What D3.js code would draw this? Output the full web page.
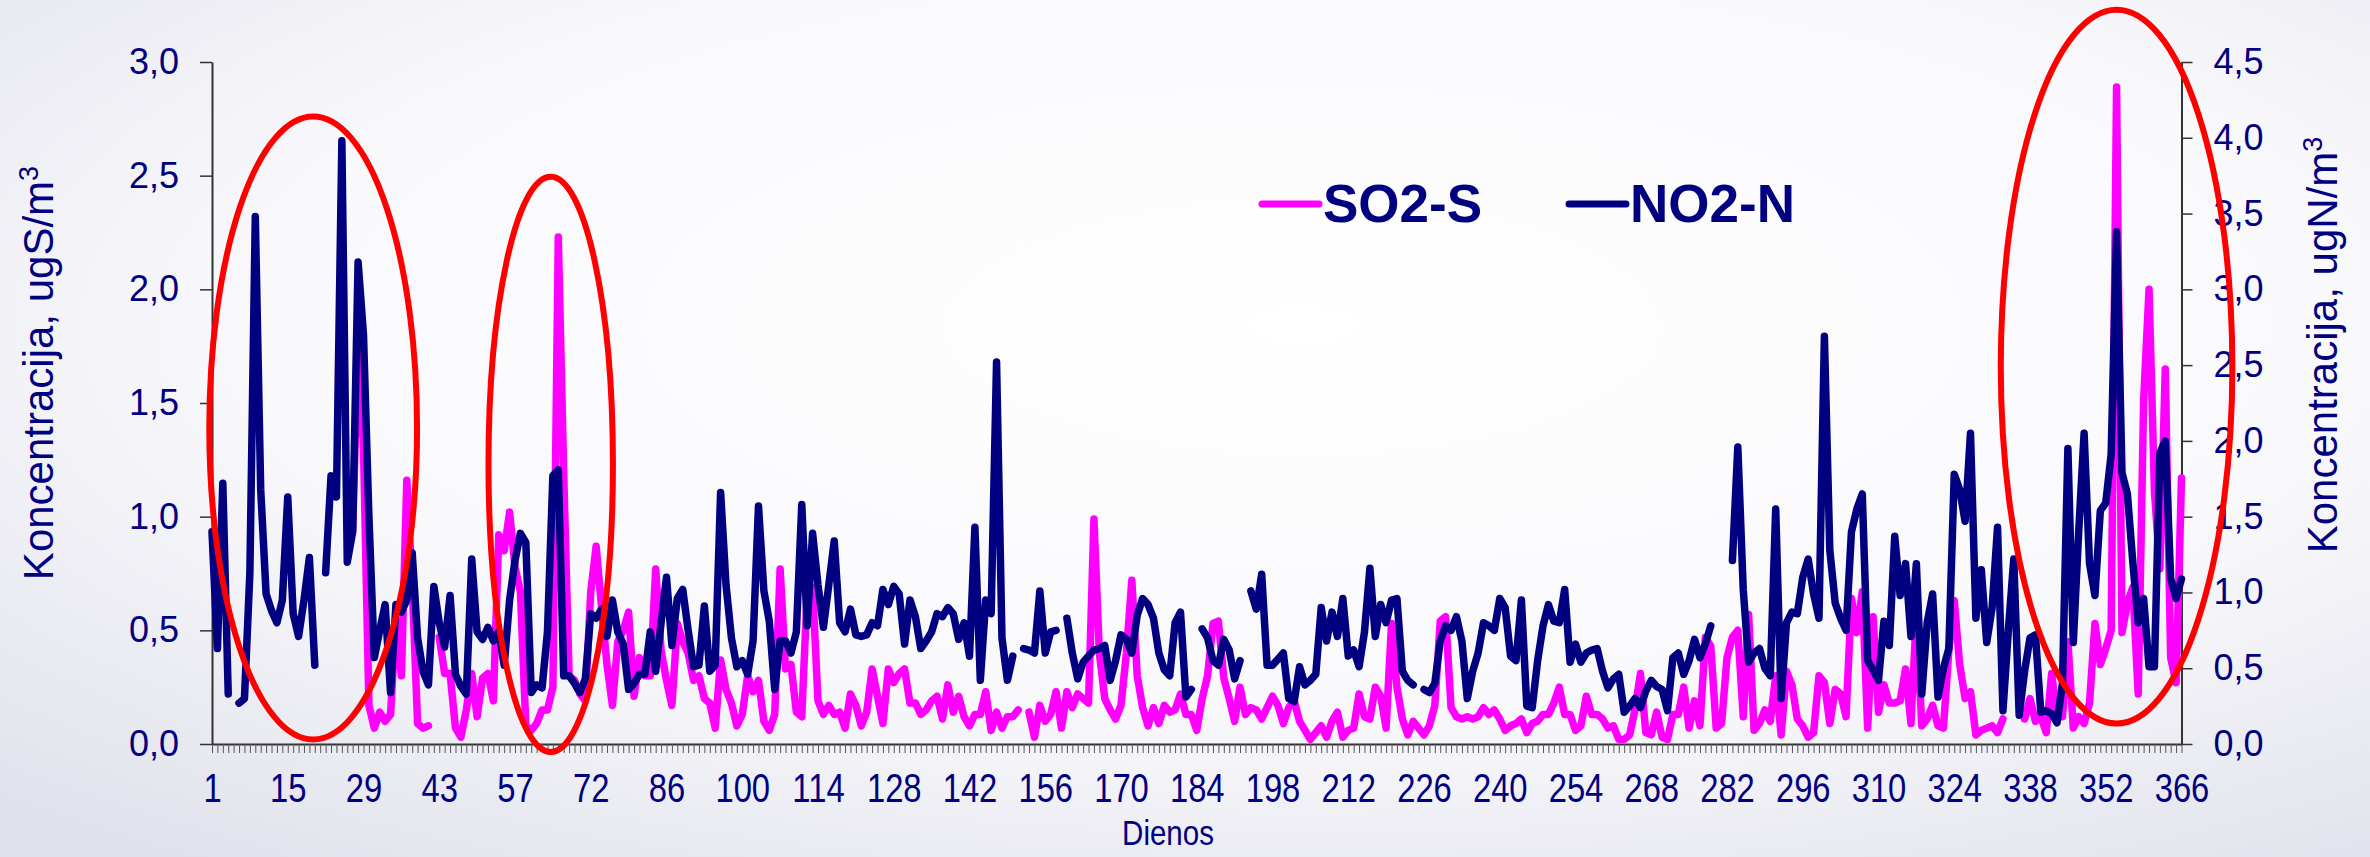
<!DOCTYPE html>
<html>
<head>
<meta charset="utf-8">
<script src="https://cdn.jsdelivr.net/npm/d3@7"></script>
<style>
  body { margin: 0; background: #fff; }
  svg { display: block; font-family: "Liberation Sans", Arial, sans-serif; }
</style>
</head>
<body>
<div id="chart"></div>
<script>
// daily values, index 0 = first day on the axis
const so2 = [
  null,null,null,null,null,null,null,null,null,null,
  null,null,null,null,null,null,null,null,null,null,
  null,null,null,null,null,null,0.94,1.78,1.30,0.17,
  0.07,0.14,0.10,0.13,0.55,0.30,1.16,0.70,0.09,0.07,
  0.08,null,0.47,0.31,0.31,0.07,0.03,0.15,0.31,0.12,
  0.29,0.31,0.19,0.92,0.85,1.02,0.78,0.67,0.08,0.06,
  0.09,0.15,0.15,0.25,2.23,1.19,0.30,0.28,0.22,0.19,
  0.67,0.87,0.60,0.35,0.17,0.45,0.50,0.58,0.21,0.38,
  0.30,0.30,0.77,0.41,0.28,0.17,0.53,0.45,0.40,0.28,
  0.30,0.20,0.18,0.07,0.37,0.24,0.18,0.08,0.13,0.30,
  0.23,0.28,0.10,0.06,0.13,0.77,0.33,0.35,0.14,0.12,
  0.67,0.69,0.19,0.13,0.17,0.13,0.14,0.07,0.22,0.17,
  0.08,0.14,0.33,0.21,0.09,0.33,0.27,0.31,0.33,0.18,
  0.18,0.13,0.15,0.19,0.21,0.11,0.26,0.14,0.21,0.12,
  0.08,0.13,0.13,0.23,0.06,0.14,0.07,0.12,0.12,0.15,
  null,0.14,0.03,0.17,0.10,0.13,0.23,0.07,0.23,0.16,
  0.22,0.20,0.18,0.99,0.40,0.20,0.15,0.11,0.17,0.40,
  0.72,0.30,0.16,0.08,0.16,0.09,0.17,0.14,0.15,0.22,
  0.13,0.13,0.06,0.20,0.30,0.53,0.54,0.29,0.20,0.10,
  0.25,0.13,0.16,0.15,0.11,0.16,0.21,0.17,0.09,0.16,
  0.19,0.10,0.06,0.02,0.05,0.08,0.03,0.10,0.14,0.03,
  0.06,0.07,0.22,0.12,0.11,0.25,0.21,0.07,0.53,0.25,
  0.11,0.04,0.10,0.07,0.04,0.08,0.17,0.54,0.56,0.16,
  0.12,0.11,0.12,0.11,0.12,0.16,0.13,0.15,0.11,0.06,
  0.08,0.09,0.11,0.05,0.09,0.10,0.13,0.13,0.18,0.25,
  0.13,0.13,0.06,0.08,0.21,0.13,0.13,0.11,0.07,0.08,
  0.02,0.02,0.04,0.15,0.31,0.05,0.04,0.14,0.03,0.02,
  0.13,0.13,0.25,0.07,0.19,0.08,0.47,0.43,0.07,0.09,
  0.38,0.47,0.50,0.12,0.57,0.06,0.09,0.15,0.10,0.30,
  0.04,0.32,0.26,0.11,0.08,0.03,0.05,0.30,0.27,0.09,
  0.24,0.22,0.12,0.64,0.49,0.67,0.07,0.56,0.14,0.26,
  0.18,0.18,0.19,0.33,0.09,0.57,0.08,0.11,0.17,0.08,
  0.07,0.41,0.63,0.35,0.20,0.23,0.04,0.06,0.07,0.08,
  0.05,0.11,null,null,null,0.11,0.20,0.10,0.12,0.05,
  0.31,0.12,0.12,0.45,0.07,0.12,0.09,0.18,0.53,0.35,
  0.42,0.50,2.89,0.49,0.62,0.69,0.22,1.51,2.00,1.11,
  0.77,1.65,0.38,0.27,1.17
];

const no2 = [
  1.40,0.63,1.72,0.33,null,0.27,0.30,1.13,3.48,1.68,
  0.99,0.88,0.80,0.95,1.63,0.86,0.71,0.95,1.23,0.52,
  null,1.13,1.77,1.63,3.98,1.20,1.40,3.18,2.70,1.50,
  0.57,0.75,0.92,0.34,0.92,0.87,0.95,1.26,0.70,0.48,
  0.39,1.04,0.80,0.64,0.98,0.46,0.38,0.33,1.22,0.74,
  0.69,0.77,0.68,0.74,0.52,0.95,1.21,1.39,1.33,0.34,
  0.39,0.37,0.74,1.77,1.81,0.45,0.45,0.40,0.34,0.43,
  0.86,0.83,0.89,0.71,0.95,0.74,0.66,0.36,0.40,0.46,
  0.46,0.74,0.48,0.80,1.10,0.65,0.96,1.02,0.75,0.51,
  0.52,0.91,0.48,0.52,1.66,1.05,0.70,0.51,0.55,0.46,
  0.68,1.57,1.01,0.81,0.36,0.68,0.68,0.60,0.74,1.58,
  0.78,1.39,1.05,0.77,1.05,1.34,0.80,0.74,0.89,0.72,
  0.71,0.72,0.80,0.78,1.02,0.92,1.04,0.99,0.66,0.95,
  0.84,0.63,0.68,0.74,0.86,0.84,0.90,0.86,0.69,0.80,
  0.58,1.43,0.42,0.95,0.86,2.52,0.70,0.42,0.58,null,
  0.63,0.62,0.60,1.01,0.60,0.74,0.75,null,0.83,0.60,
  0.43,0.54,0.58,0.62,0.63,0.65,0.42,0.55,0.72,0.69,
  0.60,0.85,0.96,0.92,0.83,0.60,0.49,0.45,0.80,0.87,
  0.31,0.36,null,0.76,0.70,0.55,0.52,0.69,0.62,0.43,
  0.55,null,1.01,0.89,1.12,0.52,0.52,0.56,0.60,0.30,
  0.28,0.51,0.39,0.42,0.46,0.90,0.68,0.87,0.71,0.96,
  0.58,0.62,0.51,0.74,1.16,0.71,0.92,0.80,0.95,0.96,
  0.48,0.42,0.39,null,0.36,0.34,0.40,0.68,0.78,0.75,
  0.84,0.68,0.30,0.48,0.60,0.80,0.78,0.75,0.96,0.90,
  0.58,0.55,0.95,0.25,0.24,0.55,0.78,0.92,0.81,0.80,
  1.02,0.54,0.66,0.54,0.60,0.62,0.63,0.48,0.37,0.43,
  0.46,0.21,0.25,0.30,0.24,0.35,0.42,0.38,0.36,0.22,
  0.57,0.60,0.46,0.55,0.69,0.57,0.66,0.78,null,null,
  null,1.21,1.96,1.02,0.54,0.60,0.63,0.50,0.45,1.55,
  0.30,0.80,0.87,0.86,1.10,1.22,0.99,0.83,2.69,1.28,
  0.93,0.83,0.75,1.40,1.55,1.65,0.55,0.49,0.42,0.81,
  0.65,1.37,0.98,1.19,0.71,1.19,0.33,0.80,0.99,0.31,
  0.50,0.63,1.78,1.68,1.47,2.05,0.83,1.15,0.67,0.90,
  1.43,0.22,0.75,1.22,0.19,0.48,0.70,0.72,0.21,0.22,
  0.20,0.14,0.40,1.95,0.67,1.40,2.05,1.19,0.98,1.54,
  1.59,1.91,3.38,1.79,1.65,1.20,0.80,0.96,0.51,0.51,
  1.92,2.00,1.09,0.96,1.09
];

const dayLabels = ["1","15","29","43","57","72","86","100","114","128","142","156","170","184",
                   "198","212","226","240","254","268","282","296","310","324","338","352","366"];
const leftTicks = [0, 0.5, 1, 1.5, 2, 2.5, 3];
const rightTicks = [0, 0.5, 1, 1.5, 2, 2.5, 3, 3.5, 4, 4.5];
const seriesNames = ["SO2-S", "NO2-N"];

// red ovals drawn over the chart: centre day index / SO2 value, radii in the same units
const highlights = [
  {day: 18.7,  value: 1.39, rDays: 19.2, rValue: 1.37},
  {day: 62.6,  value: 1.23, rDays: 11.5, rValue: 1.265},
  {day: 352.0, value: 1.66, rDays: 21.4, rValue: 1.57}
];

// 1. Dimensions
const W = 2370, H = 857;
const margin = {top: 62, right: 188.5, bottom: 113, left: 212},
      width = W - margin.left - margin.right,
      height = H - margin.top - margin.bottom;

const navy = "#000080", pink = "#ff00ff";

const svg = d3.select("#chart")
  .append("svg")
    .attr("width", W)
    .attr("height", H);

// slide-like background
const defs = svg.append("defs");
const grad = defs.append("radialGradient")
    .attr("id", "bg")
    .attr("cx", "55%").attr("cy", "38%").attr("r", "80%");
grad.append("stop").attr("offset", "0%").attr("stop-color", "#ffffff");
grad.append("stop").attr("offset", "55%").attr("stop-color", "#f9f9fc");
grad.append("stop").attr("offset", "100%").attr("stop-color", "#dfe0ea");

svg.append("rect").attr("width", W).attr("height", H).attr("fill", "url(#bg)");

const g = svg.append("g")
    .attr("transform", `translate(${margin.left},${margin.top})`);

// 2. Scales
const n = no2.length;
const x = d3.scaleLinear().domain([0, n - 1]).range([0, width]);
const yL = d3.scaleLinear().domain([0, 3]).range([height, 0]);
const yR = d3.scaleLinear().domain([0, 4.5]).range([height, 0]);

const fmt = d => d.toFixed(1).replace(".", ",");

// 3. Axes
const axisColor = "#333";

// every day gets a small tick
g.append("g")
    .attr("class", "x-minor")
    .attr("transform", `translate(0,${height})`)
    .call(d3.axisBottom(x).tickValues(d3.range(n)).tickSize(9).tickSizeOuter(0).tickFormat(""))
    .call(a => a.select(".domain").attr("stroke", axisColor).attr("stroke-width", 2))
    .call(a => a.selectAll(".tick line").attr("stroke", "#555").attr("stroke-width", 1));

// day labels, a little condensed like the original
g.append("g")
    .attr("class", "x-labels")
    .attr("transform", `translate(0,${height})`)
    .call(d3.axisBottom(x).tickValues(d3.range(0, n, 14)).tickSize(0).tickPadding(30)
      .tickFormat((d, i) => dayLabels[i]))
    .call(a => a.select(".domain").remove())
    .call(a => a.selectAll("text")
      .attr("fill", navy)
      .style("font-size", "40px")
      .attr("transform", "scale(0.82,1)"));

g.append("g")
    .attr("class", "y-left")
    .call(d3.axisLeft(yL).tickValues(leftTicks).tickSize(12).tickSizeOuter(0).tickPadding(21).tickFormat(fmt))
    .call(a => a.select(".domain").attr("stroke", axisColor).attr("stroke-width", 2))
    .call(a => a.selectAll(".tick line").attr("stroke", axisColor).attr("stroke-width", 1.5))
    .call(a => a.selectAll("text").attr("fill", navy).style("font-size", "36px"));

g.append("g")
    .attr("class", "y-right")
    .attr("transform", `translate(${width},0)`)
    .call(d3.axisRight(yR).tickValues(rightTicks).tickSize(11).tickSizeOuter(0).tickPadding(21).tickFormat(fmt))
    .call(a => a.select(".domain").attr("stroke", axisColor).attr("stroke-width", 2))
    .call(a => a.selectAll(".tick line").attr("stroke", axisColor).attr("stroke-width", 1.5))
    .call(a => a.selectAll("text").attr("fill", navy).style("font-size", "36px"));

// axis titles
const leftTitle = svg.append("text")
    .attr("transform", `translate(53,373) rotate(-90)`)
    .attr("text-anchor", "middle")
    .attr("fill", navy)
    .style("font-size", "42px");
leftTitle.append("tspan").text("Koncentracija, ugS/m");
leftTitle.append("tspan").attr("baseline-shift", "super").style("font-size", "27px").text("3");

const rightTitle = svg.append("text")
    .attr("transform", `translate(2337,345) rotate(-90)`)
    .attr("text-anchor", "middle")
    .attr("fill", navy)
    .style("font-size", "42px");
rightTitle.append("tspan").text("Koncentracija, ugN/m");
rightTitle.append("tspan").attr("baseline-shift", "super").style("font-size", "27px").text("3");

svg.append("text")
    .attr("transform", "translate(1168,845) scale(0.82,1)")
    .attr("text-anchor", "middle")
    .attr("fill", navy)
    .style("font-size", "36px")
    .text("Dienos");

// 4. Lines
const so2Line = d3.line()
    .defined(d => d != null)
    .x((d, i) => x(i))
    .y(d => yL(d));

const no2Line = d3.line()
    .defined(d => d != null)
    .x((d, i) => x(i))
    .y(d => yR(d));

g.append("path")
    .datum(so2)
    .attr("fill", "none")
    .attr("stroke", pink)
    .attr("stroke-width", 7.5)
    .attr("stroke-linejoin", "round")
    .attr("stroke-linecap", "round")
    .attr("d", so2Line);

g.append("path")
    .datum(no2)
    .attr("fill", "none")
    .attr("stroke", navy)
    .attr("stroke-width", 7.5)
    .attr("stroke-linejoin", "round")
    .attr("stroke-linecap", "round")
    .attr("d", no2Line);

// 5. Legend
const legendItems = [
  {name: seriesNames[0], color: pink, x: 1262},
  {name: seriesNames[1], color: navy, x: 1569}
];
const legend = svg.selectAll(".legend")
    .data(legendItems)
    .enter().append("g")
    .attr("class", "legend")
    .attr("transform", d => `translate(${d.x},204)`);

legend.append("line")
    .attr("x1", 0).attr("x2", 57)
    .attr("stroke", d => d.color)
    .attr("stroke-width", 7)
    .attr("stroke-linecap", "round");

legend.append("text")
    .attr("x", 61).attr("y", 18)
    .attr("fill", navy)
    .style("font-size", "53px")
    .style("font-weight", "bold")
    .text(d => d.name);

// 6. Red ovals
g.selectAll(".highlight")
    .data(highlights)
    .enter().append("ellipse")
    .attr("class", "highlight")
    .attr("cx", d => x(d.day))
    .attr("cy", d => yL(d.value))
    .attr("rx", d => x(d.day + d.rDays) - x(d.day))
    .attr("ry", d => yL(0) - yL(d.rValue))
    .attr("fill", "none")
    .attr("stroke", "#ff0000")
    .attr("stroke-width", 6);
</script>
</body>
</html>
